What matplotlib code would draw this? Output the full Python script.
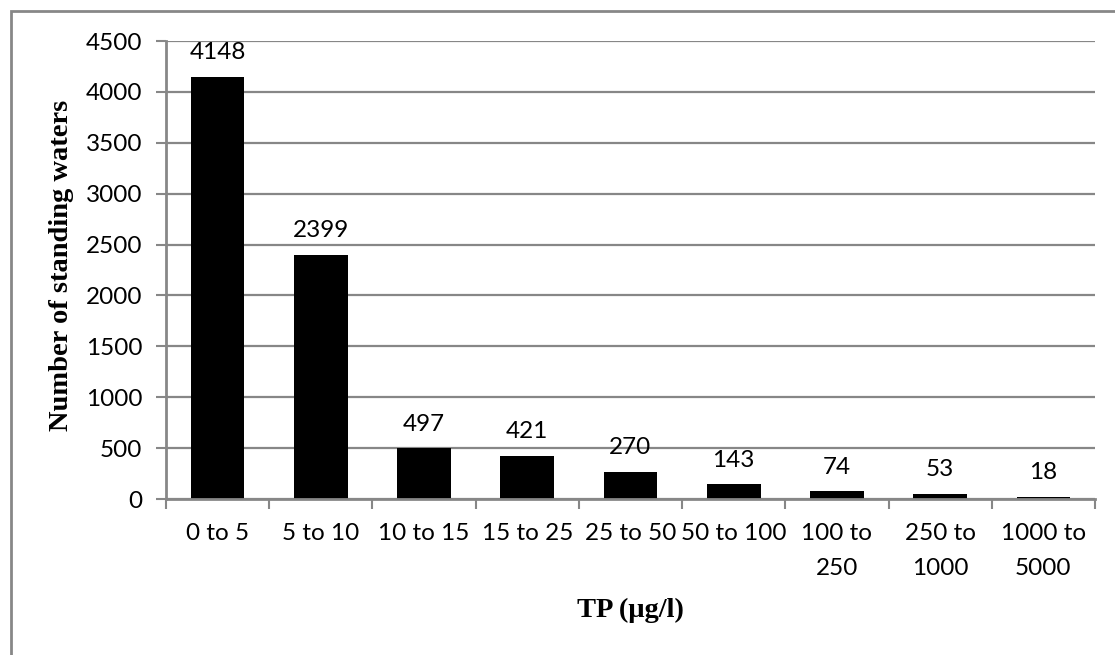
import matplotlib
matplotlib.use("Agg")
import matplotlib.pyplot as plt
from matplotlib.patches import Rectangle
from matplotlib.ticker import FixedLocator

categories = ['0 to 5', '5 to 10', '10 to 15', '15 to 25', '25 to 50',
              '50 to 100', '100 to\n250', '250 to\n1000', '1000 to\n5000']
counts = [4148, 2399, 497, 421, 270, 143, 74, 53, 18]
yticks = [0, 500, 1000, 1500, 2000, 2500, 3000, 3500, 4000, 4500]

grey = '#878787'
sans = ['Lato', 'DejaVu Sans']
serif = ['Liberation Serif', 'DejaVu Serif']
fs = 17.5

W, H = 1115, 655
fig = plt.figure(figsize=(W / 100, H / 100), dpi=100)

# outer chart border (cut off at right/bottom like the screenshot)
fig.patches.append(Rectangle((11 / W, -0.1), 1.2, 1 - 11 / H + 0.1,
                             transform=fig.transFigure, fill=False,
                             edgecolor=grey, linewidth=2))

ax = fig.add_axes([166 / W, 1 - 499 / H, 929 / W, 458 / H])
x = range(len(counts))
ax.bar(x, counts, width=0.52, color='black', zorder=3)

ax.set_xlim(-0.5, len(counts) - 0.5)
ax.set_ylim(0, 4500)
ax.set_yticks(yticks)
ax.set_xticks(list(x))
ax.set_xticklabels(categories, fontfamily=sans, fontsize=fs, linespacing=1.85)
ax.xaxis.set_minor_locator(FixedLocator([i - 0.5 for i in range(len(counts) + 1)]))
ax.tick_params(axis='x', which='major', length=0, pad=17)
ax.tick_params(axis='x', which='minor', length=7, width=1.5, color=grey)
ax.tick_params(axis='y', length=7, width=1.5, color=grey, pad=10, labelsize=fs)
for lab in ax.get_yticklabels():
    lab.set_fontfamily(sans)
for lab in ax.get_xticklabels():
    lab.set_verticalalignment('top')

ax.grid(axis='y', color=grey, linewidth=1.6, zorder=0)
for s in ['top', 'right']:
    ax.spines[s].set_visible(False)
for s in ['left', 'bottom']:
    ax.spines[s].set_color(grey)
    ax.spines[s].set_linewidth(2)
    ax.spines[s].set_zorder(4)

for i, v in enumerate(counts):
    ax.annotate(str(v), (i, v), xytext=(0, 17.5), textcoords='offset points',
                ha='center', va='center', fontsize=fs, fontfamily=sans)

fig.text(62 / W, 1 - 265 / H, 'Number of standing waters', rotation=90,
         ha='center', va='center', fontsize=20.5, fontweight='bold', fontfamily=serif)
fig.text(630 / W, 1 - 610 / H, 'TP (\u03bcg/l)', ha='center', va='center',
         fontsize=20.5, fontweight='bold', fontfamily=serif)

fig.savefig('out.png', dpi=100)
